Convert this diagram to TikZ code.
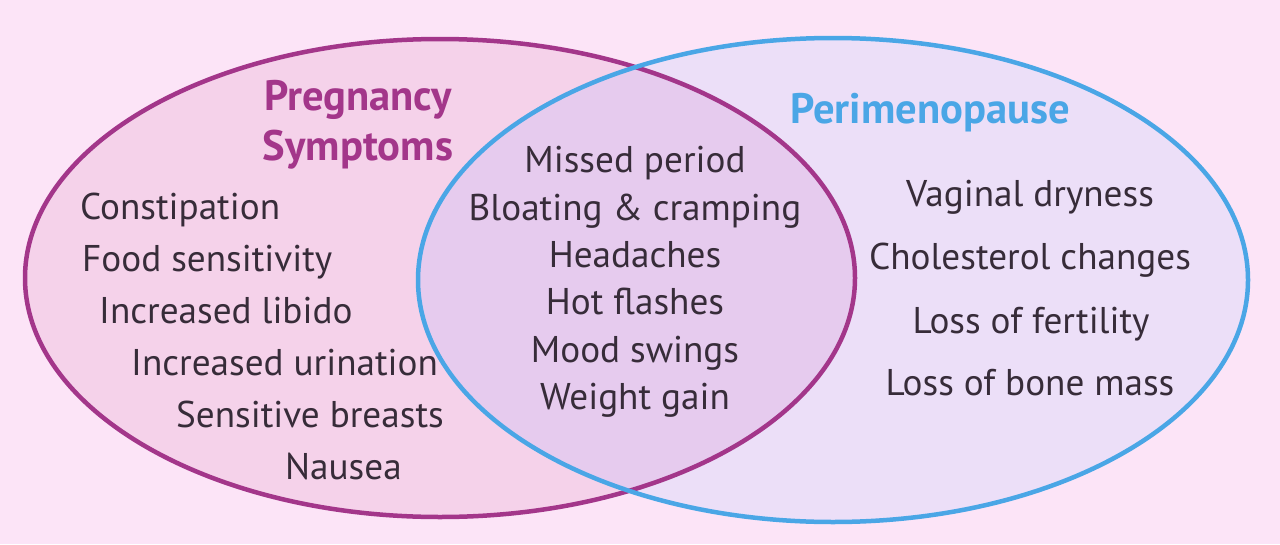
\documentclass[tikz,border=0pt]{standalone}
\usepackage{fontspec}
\setmainfont{PT Sans}
\definecolor{bgpink}{HTML}{FCE4F7}
\definecolor{leftfill}{HTML}{F5D2EA}
\definecolor{rightfill}{HTML}{ECDFF8}
\definecolor{bothfill}{HTML}{E6CBEE}
\definecolor{preg}{HTML}{A3368A}
\definecolor{peri}{HTML}{4AA6E6}
\definecolor{ink}{HTML}{372C39}

\begin{document}
\begin{tikzpicture}[x=1pt,y=-1pt,
  symptom/.style={text=ink,font=\fontsize{37.2}{42}\selectfont,inner sep=0pt},
  heading/.style={font=\fontsize{42.6}{46}\selectfont\bfseries,inner sep=0pt,anchor=base}]
  \fill[bgpink] (0,0) rectangle (1280,544);
  \coordinate (pc) at (440,278);
  \coordinate (mc) at (833,280);
  \fill[leftfill] (pc) ellipse [x radius=415, y radius=239];
  \fill[rightfill] (mc) ellipse [x radius=415, y radius=242];
  \begin{scope}
    \clip (pc) ellipse [x radius=415, y radius=239];
    \fill[bothfill] (mc) ellipse [x radius=415, y radius=242];
  \end{scope}
  % blue outline lies on top at both crossings
  \draw[preg,line width=4.5pt] (pc) ellipse [x radius=415, y radius=239];
  \draw[peri,line width=4.5pt] (mc) ellipse [x radius=415, y radius=242];

  \node[heading,text=preg] (pregt) at (358,110) {Pregnancy};
  \node[heading,text=preg] (prega) at (358,160) {Symptoms};
  \node[heading,text=peri] (perit) at (930,123) {Perimenopause};

  % pregnancy only
  \node[symptom,anchor=base west] (consti) at (80,219) {Constipation};
  \node[symptom,anchor=base west] (food) at (82,271) {Food sensitivity};
  \node[symptom,anchor=base west] (libido) at (99,323) {Increased libido};
  \node[symptom,anchor=base west] (urin) at (131,375) {Increased urination};
  \node[symptom,anchor=base west] (breast) at (176,427) {Sensitive breasts};
  \node[symptom,anchor=base west] (nausea) at (285,479) {Nausea};

  % shared
  \node[symptom,anchor=base] (missed) at (635,172) {Missed period};
  \node[symptom,anchor=base] (bloat) at (635,220) {Bloating \& cramping};
  \node[symptom,anchor=base] (head) at (635,267) {Headaches};
  \node[symptom,anchor=base] (hot) at (635,314) {Hot flashes};
  \node[symptom,anchor=base] (mood) at (635,362) {Mood swings};
  \node[symptom,anchor=base] (weight) at (635,409) {Weight gain};

  % perimenopause only
  \node[symptom,anchor=base] (dry) at (1030,206) {Vaginal dryness};
  \node[symptom,anchor=base] (chol) at (1030,269) {Cholesterol changes};
  \node[symptom,anchor=base] (fert) at (1031,333) {Loss of fertility};
  \node[symptom,anchor=base] (bone) at (1030,395) {Loss of bone mass};
\end{tikzpicture}
\end{document}
